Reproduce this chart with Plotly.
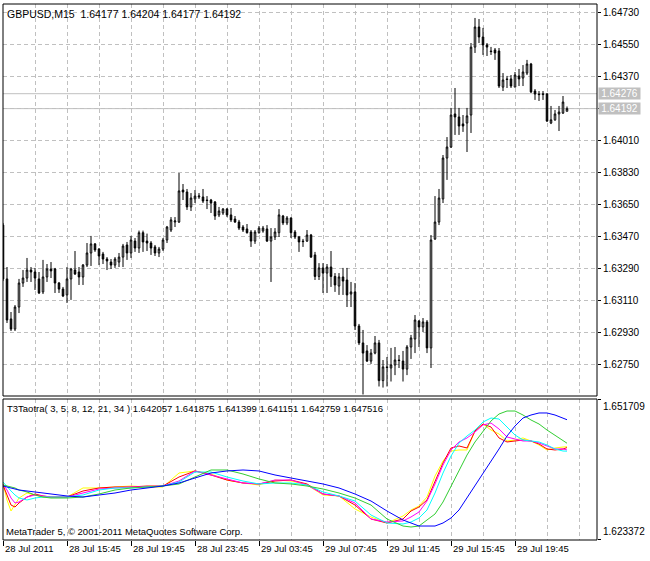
import plotly.graph_objects as go

# ---------------- data ----------------
BARS = list(range(142))
OPEN = [1.63537,1.63234,1.63009,1.62952,1.63076,1.63211,1.63239,1.63284,1.63273,1.63234,
        1.63161,1.63245,1.63290,1.63290,1.63211,1.63177,1.63144,1.63234,1.63284,1.63273,
        1.63245,1.63312,1.63380,1.63431,1.63402,1.63374,1.63346,1.63329,1.63312,1.63329,
        1.63357,1.63425,1.63380,1.63447,1.63408,1.63494,1.63447,1.63436,1.63414,1.63380,
        1.63402,1.63453,1.63509,1.63554,1.63554,1.63734,1.63723,1.63639,1.63684,1.63695,
        1.63695,1.63678,1.63678,1.63667,1.63594,1.63605,1.63627,1.63594,1.63571,1.63554,
        1.63526,1.63515,1.63498,1.63447,1.63494,1.63504,1.63515,1.63447,1.63470,1.63494,
        1.63588,1.63549,1.63577,1.63498,1.63470,1.63447,1.63447,1.63481,1.63369,1.63248,
        1.63296,1.63267,1.63301,1.63248,1.63194,1.63245,1.63228,1.63149,1.63161,1.62969,
        1.62874,1.62829,1.62772,1.62817,1.62874,1.62662,1.62739,1.62733,1.62750,1.62778,
        1.62772,1.62727,1.62851,1.62896,1.62997,1.62964,1.62992,1.62846,1.63459,1.63554,
        1.63684,1.63914,1.63976,1.64162,1.64145,1.64106,1.64111,1.64156,1.64538,1.64651,
        1.64595,1.64550,1.64516,1.64522,1.64516,1.64313,1.64359,1.64359,1.64313,1.64376,
        1.64364,1.64392,1.64443,1.64291,1.64274,1.64271,1.64274,1.64111,1.64129,1.64162,
        1.64167,1.64177]
HIGH = [1.63549,1.63301,1.63048,1.63087,1.63234,1.63284,1.63352,1.63301,1.63296,1.63273,
        1.63341,1.63318,1.63329,1.63296,1.63217,1.63189,1.63301,1.63296,1.63391,1.63301,
        1.63318,1.63436,1.63476,1.63436,1.63408,1.63386,1.63357,1.63346,1.63357,1.63380,
        1.63431,1.63442,1.63476,1.63464,1.63506,1.63506,1.63489,1.63447,1.63425,1.63414,
        1.63464,1.63532,1.63582,1.63582,1.63830,1.63768,1.63740,1.63717,1.63734,1.63717,
        1.63740,1.63700,1.63684,1.63672,1.63639,1.63633,1.63633,1.63633,1.63588,1.63566,
        1.63537,1.63543,1.63509,1.63509,1.63532,1.63532,1.63537,1.63520,1.63520,1.63627,
        1.63594,1.63588,1.63580,1.63509,1.63476,1.63459,1.63509,1.63487,1.63386,1.63323,
        1.63323,1.63318,1.63391,1.63267,1.63267,1.63296,1.63296,1.63217,1.63211,1.62981,
        1.62947,1.62862,1.62840,1.62913,1.62891,1.62778,1.62795,1.62846,1.62851,1.62806,
        1.62829,1.62862,1.62919,1.63031,1.63003,1.63014,1.63003,1.63481,1.63700,1.63740,
        1.63931,1.64032,1.64196,1.64308,1.64196,1.64156,1.64196,1.64561,1.64702,1.64696,
        1.64646,1.64561,1.64539,1.64533,1.64533,1.64392,1.64376,1.64381,1.64398,1.64415,
        1.64437,1.64466,1.64449,1.64302,1.64291,1.64291,1.64280,1.64207,1.64184,1.64207,
        1.64263,1.64204]
LOW = [1.63222,1.62986,1.62941,1.62941,1.63042,1.63189,1.63217,1.63217,1.63172,1.63149,
       1.63149,1.63217,1.63239,1.63155,1.63155,1.63132,1.63099,1.63116,1.63256,1.63200,
       1.63200,1.63301,1.63307,1.63386,1.63312,1.63318,1.63284,1.63290,1.63296,1.63301,
       1.63301,1.63341,1.63352,1.63386,1.63380,1.63386,1.63391,1.63369,1.63363,1.63357,
       1.63391,1.63436,1.63498,1.63526,1.63549,1.63678,1.63622,1.63616,1.63661,1.63684,
       1.63661,1.63627,1.63605,1.63566,1.63582,1.63594,1.63582,1.63554,1.63549,1.63509,
       1.63498,1.63489,1.63414,1.63431,1.63489,1.63494,1.63442,1.63217,1.63453,1.63470,
       1.63537,1.63537,1.63464,1.63459,1.63386,1.63414,1.63442,1.63352,1.63228,1.63228,
       1.63155,1.63155,1.63189,1.63161,1.63144,1.63144,1.63076,1.63076,1.62947,1.62862,
       1.62584,1.62767,1.62756,1.62810,1.62629,1.62623,1.62629,1.62657,1.62693,1.62733,
       1.62657,1.62693,1.62784,1.62817,1.62851,1.62935,1.62817,1.62733,1.63453,1.63537,
       1.63661,1.63791,1.63971,1.64044,1.64044,1.64061,1.63948,1.64055,1.64505,1.64561,
       1.64494,1.64488,1.64494,1.64466,1.64308,1.64291,1.64308,1.64308,1.64313,1.64319,
       1.64319,1.64381,1.64280,1.64241,1.64235,1.64241,1.64117,1.64105,1.64123,1.64066,
       1.64162,1.64177]
CLOSE = [1.63234,1.63003,1.62952,1.63076,1.63211,1.63239,1.63284,1.63273,1.63239,1.63155,
         1.63245,1.63290,1.63279,1.63211,1.63177,1.63138,1.63234,1.63290,1.63262,1.63245,
         1.63312,1.63380,1.63431,1.63397,1.63363,1.63346,1.63335,1.63312,1.63346,1.63357,
         1.63419,1.63380,1.63453,1.63408,1.63494,1.63442,1.63436,1.63408,1.63380,1.63402,
         1.63453,1.63526,1.63566,1.63560,1.63729,1.63723,1.63639,1.63689,1.63700,1.63700,
         1.63672,1.63675,1.63661,1.63588,1.63616,1.63627,1.63594,1.63566,1.63554,1.63520,
         1.63509,1.63494,1.63447,1.63498,1.63520,1.63520,1.63447,1.63470,1.63498,1.63594,
         1.63549,1.63577,1.63494,1.63470,1.63442,1.63444,1.63481,1.63357,1.63248,1.63296,
         1.63267,1.63301,1.63248,1.63200,1.63245,1.63222,1.63144,1.63161,1.62969,1.62874,
         1.62817,1.62772,1.62817,1.62874,1.62662,1.62739,1.62736,1.62750,1.62778,1.62775,
         1.62727,1.62851,1.62902,1.63003,1.62964,1.62992,1.62846,1.63453,1.63554,1.63689,
         1.63914,1.63976,1.64156,1.64145,1.64094,1.64094,1.64151,1.64538,1.64651,1.64595,
         1.64550,1.64538,1.64513,1.64505,1.64319,1.64353,1.64356,1.64319,1.64381,1.64359,
         1.64398,1.64443,1.64286,1.64274,1.64271,1.64274,1.64122,1.64129,1.64162,1.64173,
         1.64229,1.64192]

ASK_PRICE = 1.64276
BID_PRICE = 1.64192

PRICE_TICKS = [1.62750, 1.62930, 1.63110, 1.63290, 1.63470, 1.63650,
               1.63830, 1.64010, 1.64190, 1.64370, 1.64550, 1.64730]
PRICE_TICK_LABELS = ["1.62750", "1.62930", "1.63110", "1.63290", "1.63470", "1.63650",
                     "1.63830", "1.64010", "", "1.64370", "1.64550", "1.64730"]

TIME_TICK_BARS = [0, 16, 32, 48, 64, 80, 96, 112, 128]
TIME_LABELS = ["28 Jul 2011", "28 Jul 15:45", "28 Jul 19:45", "28 Jul 23:45",
               "29 Jul 03:45", "29 Jul 07:45", "29 Jul 11:45", "29 Jul 15:45", "29 Jul 19:45"]

IND_MAX = 1.651709
IND_MIN = 1.623372

IND_BARS = [0,1,2,3,4,6,8,10,12,16,20,24,28,32,36,40,44,48,52,56,60,64,68,72,76,80,84,88,92,96,100,
            102,104,106,108,110,112,114,116,118,120,122,124,126,128,130,132,134,136,138,140,141]
T3_3 = [1.63471,1.63127,1.62904,1.63025,1.63167,1.63268,1.63228,1.63187,1.63187,
        1.63187,1.63370,1.63370,1.63390,1.63410,1.63390,1.63390,1.63673,1.63714,1.63653,1.63531,
        1.63471,1.63430,1.63531,1.63511,1.63430,1.63228,1.63208,1.62945,1.62783,1.62661,1.62803,
        1.62924,1.63005,1.63187,1.63612,1.63916,1.64118,1.64139,1.64139,1.64523,1.64665,1.64543,
        1.64463,1.64321,1.64341,1.64382,1.64321,1.64240,1.64139,1.64179,1.64199,1.642057]
T3_5 = [1.63430,1.63228,1.63025,1.62985,1.63066,1.63187,1.63248,1.63208,1.63187,
        1.63187,1.63309,1.63370,1.63390,1.63390,1.63410,1.63410,1.63592,1.63714,1.63633,1.63531,
        1.63471,1.63451,1.63511,1.63531,1.63451,1.63248,1.63208,1.63025,1.62742,1.62661,1.62742,
        1.62904,1.62985,1.63127,1.63491,1.63876,1.64179,1.64220,1.64179,1.64523,1.64665,1.64604,
        1.64382,1.64301,1.64321,1.64341,1.64321,1.64260,1.64159,1.64139,1.64159,1.641875]
T3_8 = [1.63451,1.63329,1.63167,1.63066,1.63086,1.63187,1.63228,1.63208,1.63187,
        1.63187,1.63268,1.63349,1.63370,1.63390,1.63390,1.63410,1.63511,1.63714,1.63633,1.63552,
        1.63471,1.63451,1.63531,1.63531,1.63430,1.63248,1.63208,1.63066,1.62742,1.62681,1.62702,
        1.62783,1.62884,1.63106,1.63451,1.63835,1.64139,1.64301,1.64382,1.64503,1.64645,1.64685,
        1.64564,1.64402,1.64361,1.64321,1.64321,1.64280,1.64220,1.64159,1.64159,1.641399]
T3_12 = [1.63491,1.63390,1.63309,1.63228,1.63167,1.63127,1.63167,1.63187,1.63187,
         1.63187,1.63228,1.63329,1.63370,1.63370,1.63390,1.63410,1.63491,1.63693,1.63693,1.63592,
         1.63511,1.63451,1.63471,1.63471,1.63430,1.63289,1.63208,1.63106,1.62823,1.62661,1.62641,
         1.62681,1.62762,1.62924,1.63268,1.63673,1.64017,1.64280,1.64422,1.64543,1.64705,1.64786,
         1.64766,1.64604,1.64442,1.64341,1.64321,1.64301,1.64240,1.64159,1.64118,1.641151]
T3_21 = [1.63430,1.63410,1.63390,1.63370,1.63329,1.63289,1.63228,1.63187,1.63167,
         1.63167,1.63187,1.63248,1.63329,1.63370,1.63390,1.63410,1.63451,1.63592,1.63734,1.63734,
         1.63653,1.63552,1.63471,1.63451,1.63410,1.63349,1.63268,1.63167,1.63025,1.62742,1.62600,
         1.62580,1.62600,1.62722,1.62843,1.63086,1.63410,1.63734,1.64037,1.64301,1.64523,1.64726,
         1.64867,1.64928,1.64928,1.64847,1.64746,1.64665,1.64543,1.64442,1.64341,1.642759]
T3_34 = [1.63410,1.63390,1.63370,1.63349,1.63329,1.63309,1.63289,1.63268,1.63248,
         1.63208,1.63187,1.63228,1.63268,1.63329,1.63370,1.63410,1.63471,1.63572,1.63673,1.63714,
         1.63734,1.63714,1.63633,1.63572,1.63511,1.63451,1.63370,1.63248,1.63106,1.62904,1.62722,
         1.62661,1.62600,1.62600,1.62600,1.62661,1.62762,1.62924,1.63167,1.63410,1.63673,1.63896,
         1.64159,1.64422,1.64624,1.64786,1.64847,1.64888,1.64888,1.64847,1.64786,1.647516]

IND_SERIES = [("T3 3", T3_3, "#ffff00"), ("T3 5", T3_5, "#ff0000"), ("T3 8", T3_8, "#ff00ff"),
              ("T3 12", T3_12, "#00ffff"), ("T3 21", T3_21, "#32cd32"), ("T3 34", T3_34, "#0000ff")]

# ---------------- figure ----------------
FONT = "Liberation Sans, Arial, sans-serif"
GRID = "#c0c0c0"
DASH = "4px,3px"

fig = go.Figure()
fig.add_trace(go.Candlestick(
    x=BARS, open=OPEN, high=HIGH, low=LOW, close=CLOSE,
    increasing=dict(line=dict(color="black", width=1), fillcolor="white"),
    decreasing=dict(line=dict(color="black", width=1), fillcolor="black"),
    whiskerwidth=0, xaxis="x", yaxis="y", showlegend=False, hoverinfo="skip"))

for name, vals, col in IND_SERIES:
    fig.add_trace(go.Scatter(x=IND_BARS, y=vals, mode="lines", name=name,
                             line=dict(color=col, width=1), xaxis="x2", yaxis="y2",
                             showlegend=False, hoverinfo="skip"))

MAIN_BOTTOM = 144 / 536
IND_TOP = 141 / 536

fig.update_layout(
    width=650, height=561,
    margin=dict(l=3, r=53, t=4, b=21),
    paper_bgcolor="white", plot_bgcolor="white",
    boxgap=0.45,
    font=dict(family=FONT, size=10, color="black"),
    xaxis=dict(domain=[0, 1], range=[0, 148.5], anchor="y", showticklabels=False, ticks="",
               showgrid=True, gridcolor=GRID, griddash=DASH, gridwidth=1, tick0=0, dtick=8,
               zeroline=False, showline=False, rangeslider=dict(visible=False)),
    yaxis=dict(domain=[MAIN_BOTTOM, 1], range=[1.625755, 1.647805], anchor="x", side="right",
               tickvals=PRICE_TICKS, ticktext=PRICE_TICK_LABELS, ticks="outside", ticklen=3,
               tickcolor="black", showgrid=True, gridcolor=GRID, griddash=DASH, gridwidth=1,
               zeroline=False, showline=False, tickfont=dict(size=10, family=FONT, color="black")),
    xaxis2=dict(domain=[0, 1], range=[0, 148.5], anchor="y2", tickvals=TIME_TICK_BARS,
                showticklabels=False, ticks="outside", ticklen=5, tickcolor="black",
                showgrid=True, gridcolor=GRID, griddash=DASH, gridwidth=1,
                minor=dict(tick0=0, dtick=8, showgrid=True, gridcolor=GRID, griddash=DASH, ticks=""),
                zeroline=False, showline=False),
    yaxis2=dict(domain=[0, IND_TOP], range=[1.623170, IND_MAX], anchor="x2", side="right",
                tickvals=[IND_MIN, IND_MAX], showticklabels=False, ticks="outside", ticklen=3,
                tickcolor="black", showgrid=False, zeroline=False, showline=False),
)

shapes = [
    dict(type="line", xref="paper", x0=0, x1=1, yref="y", y0=ASK_PRICE, y1=ASK_PRICE,
         line=dict(color="#c0c0c0", width=1), layer="below"),
    dict(type="line", xref="paper", x0=0, x1=1, yref="y", y0=BID_PRICE, y1=BID_PRICE,
         line=dict(color="#c0c0c0", width=1), layer="below"),
    dict(type="rect", xref="paper", yref="paper", x0=0, x1=1, y0=MAIN_BOTTOM, y1=1,
         line=dict(color="black", width=1), fillcolor="rgba(0,0,0,0)", layer="above"),
    dict(type="rect", xref="paper", yref="paper", x0=0, x1=1, y0=0, y1=IND_TOP,
         line=dict(color="black", width=1), fillcolor="rgba(0,0,0,0)", layer="above"),
]
fig.update_layout(shapes=shapes)

ann = []
ann.append(dict(text="GBPUSD,M15\u00a0 1.64177 1.64204 1.64177 1.64192", xref="paper", yref="paper",
                x=0, y=1, xanchor="left", yanchor="top", xshift=2, yshift=-2, showarrow=False,
                font=dict(size=10.5, family=FONT, color="black")))
ann.append(dict(text="T3Taotra( 3, 5, 8, 12, 21, 34 ) 1.642057 1.641875 1.641399 1.641151 1.642759 1.647516",
                xref="paper", yref="paper", x=0, y=IND_TOP, xanchor="left", yanchor="top",
                xshift=2, yshift=-2, showarrow=False, font=dict(size=9.5, family=FONT, color="black")))
ann.append(dict(text="MetaTrader 5, \u00a9 2001-2011 MetaQuotes Software Corp.", xref="paper", yref="paper",
                x=0, y=0, xanchor="left", yanchor="bottom", xshift=1, yshift=1, showarrow=False,
                font=dict(size=9.5, family=FONT, color="black")))
for b, lab in zip(TIME_TICK_BARS, TIME_LABELS):
    ann.append(dict(text=lab, xref="x2", yref="paper", x=b, y=0, xanchor="left", yanchor="top",
                    yshift=-1, showarrow=False, font=dict(size=9.5, family=FONT, color="black")))
for v, s in [(IND_MAX, "1.651709"), (IND_MIN, "1.623372")]:
    ann.append(dict(text=s, xref="paper", yref="y2", x=1, y=v, xanchor="left",
                    yanchor="top" if v == IND_MAX else "bottom", xshift=4, showarrow=False,
                    font=dict(size=10, family=FONT, color="black")))
for v, s in [(ASK_PRICE, "1.64276"), (BID_PRICE, "1.64192")]:
    ann.append(dict(text=s, xref="paper", yref="y", x=1, y=v, xanchor="left", yanchor="middle",
                    xshift=1, showarrow=False, bgcolor="#c0c0c0", width=41, height=11, borderpad=0,
                    font=dict(size=10, family=FONT, color="white")))
fig.update_layout(annotations=ann)

fig.write_html("out.html", config={"displayModeBar": False},
               post_script="document.body.style.margin='0px';document.body.style.overflow='hidden';")
